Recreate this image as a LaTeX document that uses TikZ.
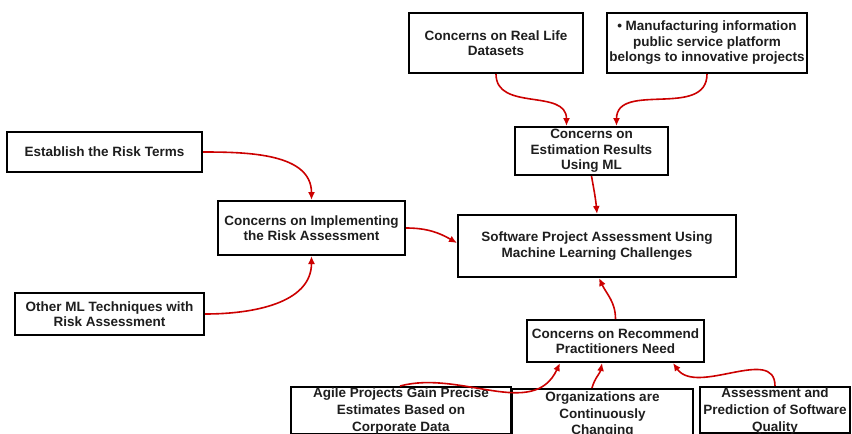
\documentclass[tikz,border=0pt]{standalone}
\usepackage{fontspec}
\setmainfont{Liberation Sans}
\usetikzlibrary{arrows.meta}
\definecolor{arrred}{RGB}{204,0,0}
\definecolor{txtc}{RGB}{30,30,30}
\tikzset{
  box/.style={draw=black, line width=2pt, fill=white, inner sep=1pt,
    font=\fontsize{13.5}{15.5}\selectfont\bfseries, text=txtc, align=center},
  txt/.style={inner sep=0pt, font=\fontsize{13.5}{17}\selectfont\bfseries, text=txtc, align=center},
  conn/.style={draw=arrred, line width=1.6pt, -{Latex[length=8pt,width=7pt]}}
}
\begin{document}
\begin{tikzpicture}[x=1pt,y=-1pt]
\path[use as bounding box] (0,0) rectangle (852,434);
\clip (0,0) rectangle (852,434);
\fill[white] (0,0) rectangle (852,434);
% top boxes
\node[box, minimum width=174, minimum height=60] (ds) at (496,43) {Concerns on Real Life\\Datasets};
\node[box, minimum width=200, minimum height=60] (man) at (707,43) {• Manufacturing information\\public service platform\\belongs to innovative projects};
\node[box, minimum width=153, minimum height=48] (est) at (591.5,151) {Concerns on\\Estimation Results\\Using ML};
% left boxes
\node[box, minimum width=195, minimum height=40] (est2) at (104.5,152) {Establish the Risk Terms};
\node[box, minimum width=187, minimum height=54] (impl) at (311.5,228) {Concerns on Implementing\\the Risk Assessment};
\node[box, minimum width=189, minimum height=42] (oth) at (109.5,314) {Other ML Techniques with\\Risk Assessment};
% main
\node[box, minimum width=278, minimum height=62] (main) at (597,246) {Software Project Assessment Using\\Machine Learning Challenges};
% recommend
\node[box, minimum width=177, minimum height=42] (rec) at (615.5,341) {Concerns on Recommend\\Practitioners Need};
% bottom boxes
\node[box, minimum width=220, minimum height=47, anchor=north] (agile) at (401,386) {};
\node[txt, anchor=north] (agilet) at ([yshift=-2]agile.north) {Agile Projects Gain Precise\\Estimates Based on\\Corporate Data};
\node[box, minimum width=181, minimum height=70, anchor=north] (org) at (602.5,388) {};
\node[txt, anchor=north, font=\fontsize{13.5}{16.5}\selectfont\bfseries] (orgt) at ([yshift=-4]org.north) {Organizations are\\Continuously\\Changing};
\node[box, minimum width=150, minimum height=46, anchor=north] (asp) at (775,386) {};
\node[txt, anchor=north] (aspt) at ([yshift=-2]asp.north) {Assessment and\\Prediction of Software\\Quality};
% connectors
\draw[conn] (ds.south) to[out=-90,in=90,looseness=1.1] ([xshift=-25]est.north);
\draw[conn] (man.south) to[out=-90,in=90,looseness=1.1] ([xshift=25]est.north);
\draw[conn] (est.south) to[out=-80,in=95] (main.north);
\draw[conn] (est2.east) to[out=0,in=90] (impl.north);
\draw[conn] (oth.east) to[out=0,in=-90] (impl.south);
\draw[conn] (impl.east) to[out=0,in=150] ([yshift=3]main.west);
\draw[conn] (rec.north) to[out=90,in=-65] ([xshift=2]main.south);
\draw[conn] ([xshift=-1]agile.north) to[out=15,in=-115] ([xshift=-55.5]rec.south);
\draw[conn] ([xshift=-10.5]org.north) to[out=75,in=-100] ([xshift=-13.5]rec.south);
\draw[conn] (asp.north) to[out=90,in=-55] ([xshift=57.5]rec.south);
\end{tikzpicture}
\end{document}
